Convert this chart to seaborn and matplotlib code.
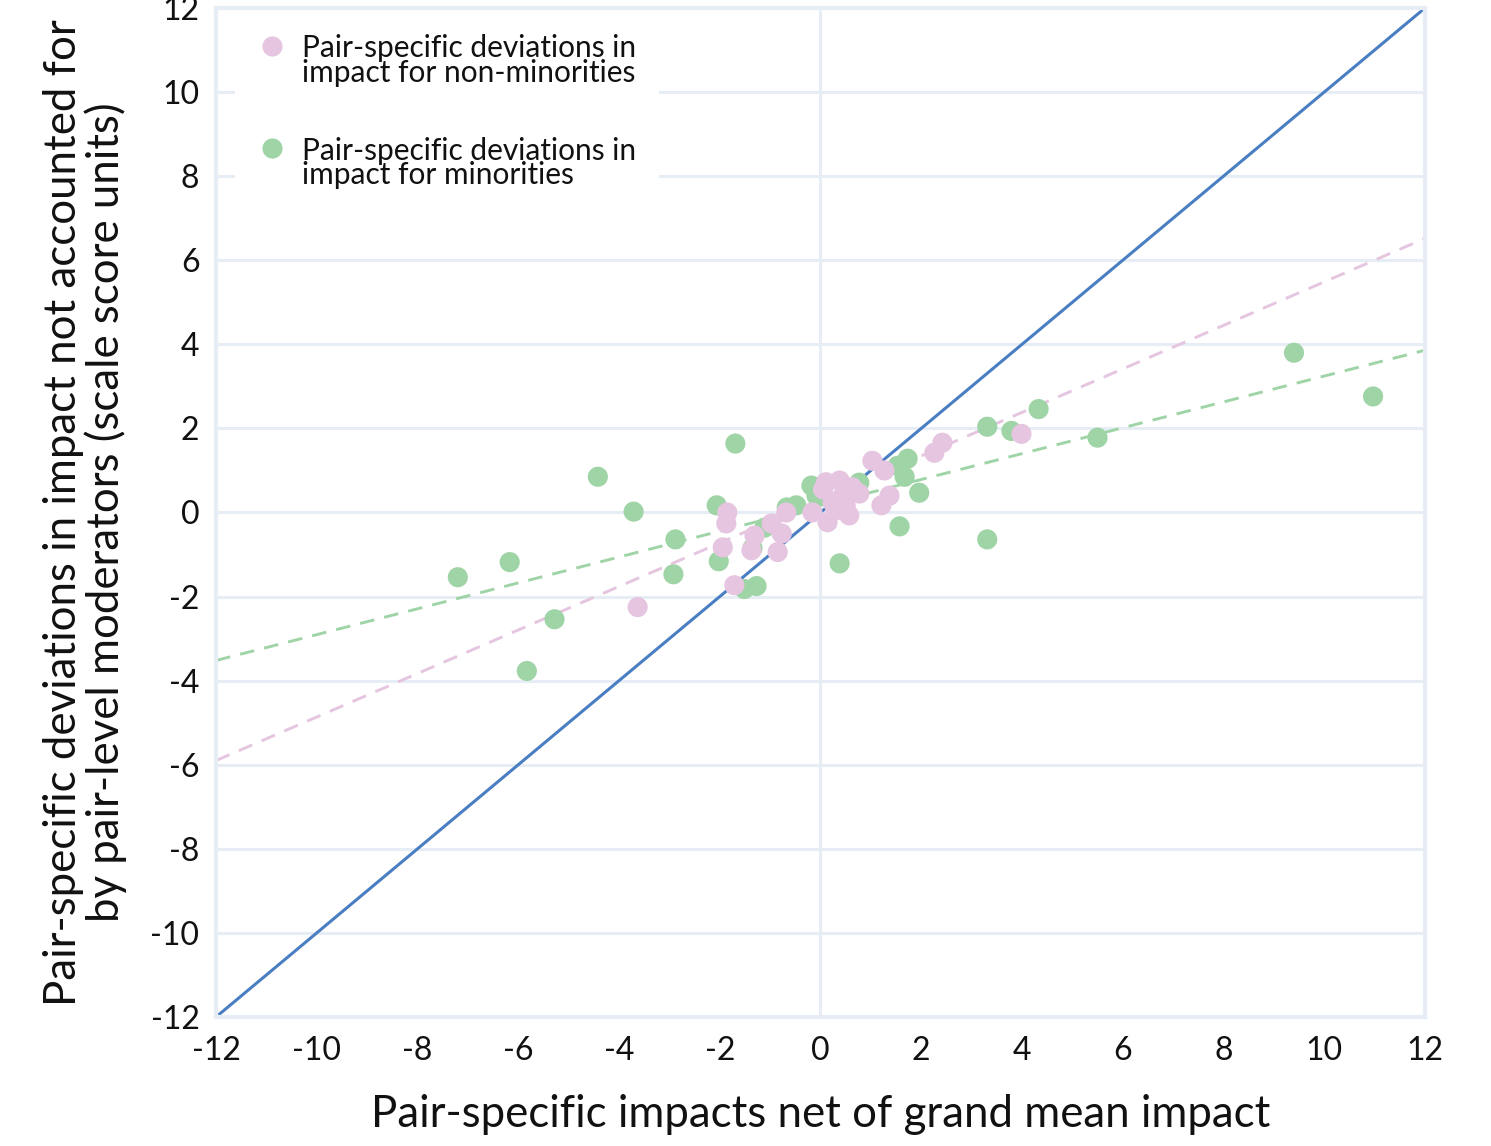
import numpy as np
import pandas as pd
import matplotlib
matplotlib.use('Agg')
import matplotlib.pyplot as plt
from matplotlib.lines import Line2D
from matplotlib.legend_handler import HandlerLine2D
import seaborn as sns

# Pair-specific deviations, minorities (green)
min_x = [-7.20, -6.17, -5.28, -5.83, -4.42, -3.71, -2.88, -2.92, -1.69, -2.06,
         -2.02, -1.51, -1.27, -0.67, -0.48, -1.11, -0.18, 0.38, 1.57, 1.96,
         1.67, 1.73, 1.53, 3.31, 3.79, 4.33, 3.31, 5.50, 9.40, 10.97,
         0.77, -0.08, -1.35]
min_y = [-1.54, -1.18, -2.54, -3.77, 0.85, 0.02, -0.64, -1.47, 1.64, 0.17,
         -1.16, -1.82, -1.75, 0.12, 0.17, -0.36, 0.64, -1.21, -0.33, 0.47,
         0.85, 1.28, 1.11, 2.04, 1.94, 2.46, -0.64, 1.78, 3.80, 2.76,
         0.71, 0.40, -0.85]

# Pair-specific deviations, non-minorities (pink)
non_x = [-3.63, -1.85, -1.87, -1.94, -1.71, -1.31, -1.37, -0.97, -0.77, -0.85,
         -0.68, 0.11, 0.38, 0.63, -0.16, 0.14, 0.57, 0.24, 0.44, 0.77,
         0.05, 0.30, 0.50, 1.03, 1.27, 1.21, 1.37, 2.26, 2.42, 3.99]
non_y = [-2.25, 0.00, -0.26, -0.83, -1.73, -0.55, -0.90, -0.26, -0.50, -0.94,
         0.00, 0.72, 0.76, 0.60, 0.00, -0.23, -0.07, 0.24, 0.40, 0.45,
         0.55, 0.05, 0.15, 1.23, 1.00, 0.17, 0.40, 1.42, 1.66, 1.87]

# fitted lines (slope, intercept)
non_fit = (0.5175, 0.31)
min_fit = (0.3075, 0.17)

ticks = list(range(-12, 13, 2))

lab_non = "Pair-specific deviations in\nimpact for non-minorities"
lab_min = "Pair-specific deviations in\nimpact for minorities"

PINK = "#e5c5df"
GREEN = "#9fd4a7"
BLUE = "#4a7ec2"
GRID = "#e6edf5"


class RaisedMarker(HandlerLine2D):
    """Put the legend marker next to the first line of a two-line label."""
    def __init__(self, lift=11, **kw):
        super().__init__(**kw)
        self.lift = lift

    def create_artists(self, legend, orig_handle, xdescent, ydescent,
                       width, height, fontsize, trans):
        return super().create_artists(legend, orig_handle, xdescent,
                                      ydescent - 2 * self.lift, width, height,
                                      fontsize, trans)


df = pd.concat([
    pd.DataFrame({"x": min_x, "y": min_y, "group": lab_min}),
    pd.DataFrame({"x": non_x, "y": non_y, "group": lab_non}),
], ignore_index=True)

sns.set_theme(style="white")
plt.rcParams['font.family'] = ['Lato', 'DejaVu Sans']
plt.rcParams['axes.unicode_minus'] = False

fig, ax = plt.subplots(figsize=(14.91, 11.46), dpi=100)
fig.subplots_adjust(left=0.1449, right=0.9557, top=0.993, bottom=0.1126)

for t in ticks:
    ax.axhline(t, color=GRID, lw=2.2, zorder=0)
ax.axvline(0, color=GRID, lw=2.2, zorder=0)

xs = np.array([-12, 12])
ax.plot(xs, xs, color=BLUE, lw=2.2, zorder=1)
ax.plot(xs, non_fit[0] * xs + non_fit[1], color=PINK, lw=2.1, ls=(0, (5, 3.5)), zorder=1)
ax.plot(xs, min_fit[0] * xs + min_fit[1], color=GREEN, lw=2.1, ls=(0, (5, 3.5)), zorder=1)

sns.scatterplot(data=df, x="x", y="y", hue="group", hue_order=[lab_non, lab_min],
                palette={lab_non: PINK, lab_min: GREEN}, s=210, linewidth=0,
                alpha=1, ax=ax, zorder=2, legend=False)

ax.set_xlim(-12, 12)
ax.set_ylim(-12, 12)
ax.set_xticks(ticks)
ax.set_yticks(ticks)
ax.tick_params(axis='both', length=0, labelsize=23, colors='#111111')
ax.tick_params(axis='y', pad=12)
ax.tick_params(axis='x', pad=14)
for s in ax.spines.values():
    s.set_color(GRID)
    s.set_linewidth(3)
    s.set_zorder(6)

ax.set_xlabel("Pair-specific impacts net of grand mean impact", fontsize=31.5,
              color='#111111', labelpad=20)
ax.set_ylabel("Pair-specific deviations in impact not accounted for\n"
              "by pair-level moderators (scale score units)", fontsize=31.5,
              color='#111111', linespacing=1.0)
ax.yaxis.set_label_coords(-0.0736, 0.5)

handles = [Line2D([], [], ls='none', marker='o', markersize=14.5,
                  markerfacecolor=c, markeredgewidth=0) for c in (PINK, GREEN)]
leg = ax.legend(handles, [lab_non, lab_min], loc='upper left',
                bbox_to_anchor=(0.0157, 0.996), borderaxespad=0, frameon=True,
                facecolor='white', edgecolor='none', framealpha=1, fontsize=21.5,
                handlelength=1.0, handletextpad=0.5, labelspacing=1.65,
                borderpad=0.75, handler_map={Line2D: RaisedMarker(lift=11.5)})
for t in leg.get_texts():
    t.set_linespacing(0.86)
    t.set_color('#111111')
leg.set_zorder(5)

fig.savefig("out.png", dpi=100)
